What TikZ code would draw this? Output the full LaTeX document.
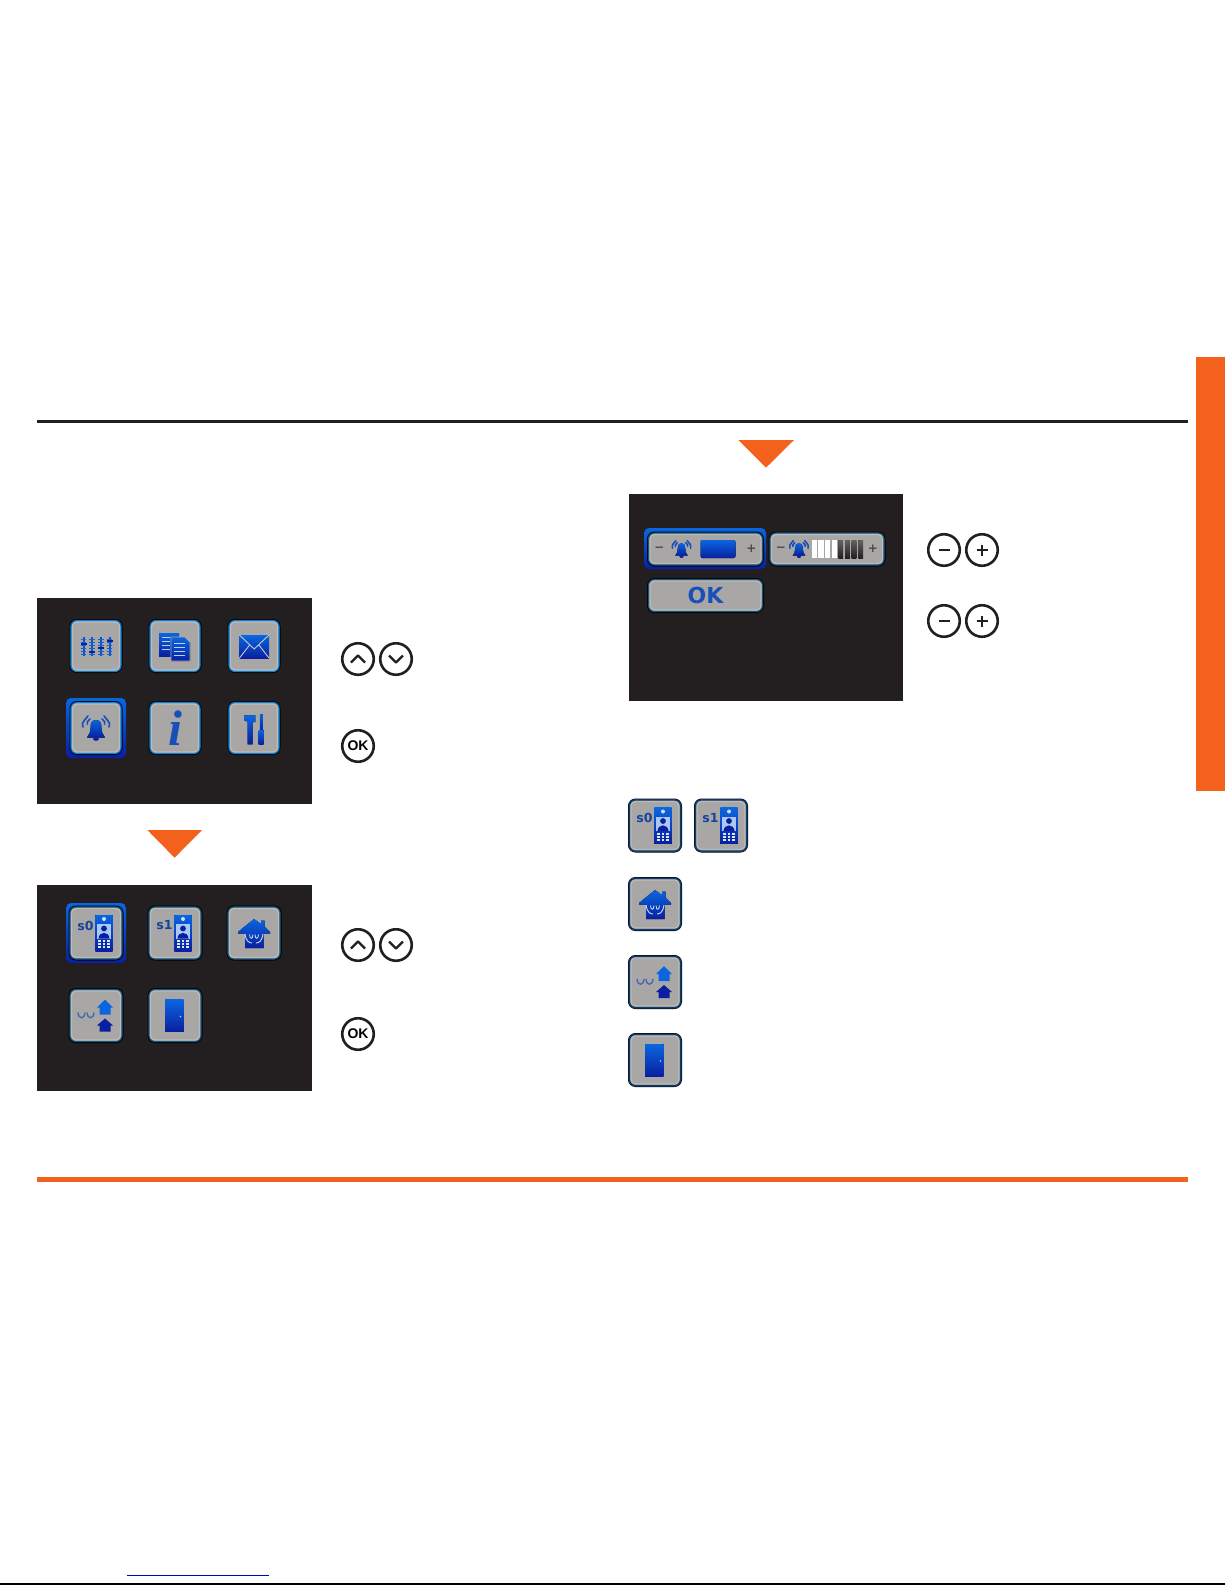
\documentclass[tikz,border=0pt]{standalone}
\usepackage{fontspec}
\usepackage{xcolor}
\usepackage{tikz}
\newfontfamily\keyfont{Liberation Sans}
\newfontfamily\iconfont{DejaVu Sans}
\newfontfamily\infofont{Liberation Serif}
\definecolor{pitch}{HTML}{231F20}
\definecolor{flame}{HTML}{F4611D}
\definecolor{iconlight}{HTML}{0A66E0}
\definecolor{icondark}{HTML}{0A1F9F}
\definecolor{iconmid}{HTML}{1A4FB8}
\definecolor{facegray}{HTML}{A9A7A6}
\definecolor{faceedge}{HTML}{BBBBBB}
\definecolor{rimblue}{HTML}{0A7FD8}
\definecolor{rimdull}{HTML}{17567F}
\definecolor{rimnavy}{HTML}{123A66}
\definecolor{linkblue}{HTML}{0000CC}
\tikzset{
	screen/.style = {rectangle, fill=pitch, inner sep=0pt, minimum width=275, minimum height=206},
	facering/.style = {path picture={\draw[faceedge, line width=1.2, rounded corners=4] ([shift={(1.6,1.6)}]path picture bounding box.north west) rectangle ([shift={(-1.6,-1.6)}]path picture bounding box.south east);}},
	menubutton/.style = {rectangle, rounded corners=6, fill=facegray, draw=rimblue, line width=1.2, inner sep=0pt, minimum width=50, minimum height=51, facering, preaction={draw=black, line width=3}},
	subbutton/.style = {menubutton, draw=rimdull, minimum width=52, minimum height=52},
	sidebutton/.style = {menubutton, draw=rimnavy, minimum width=51, minimum height=51, preaction={draw=rimnavy, line width=2}},
	widebutton/.style = {subbutton, minimum width=114, minimum height=32},
	selectframe/.style = {rectangle, rounded corners=5, top color=iconlight, bottom color=icondark, inner sep=0pt, minimum width=60, minimum height=60},
	keybutton/.style = {circle, draw=pitch, line width=2.6, fill=white, inner sep=0pt, minimum size=31.5, font=\keyfont\bfseries\fontsize{14}{14}\selectfont},
	keymark/.style = {draw=pitch, line width=2.4, line join=round},
	marker/.style = {fill=flame},
	iconfill/.style = {top color=iconlight, bottom color=icondark},
	iconline/.style = {draw=iconmid, line width=1.6, line cap=round},
	iconmixer/.pic = {
		\foreach \x/\k in {-12.3/-2,-4/6,5/2,13.7/-5} {
			\draw[iconmid, line width=2.4] (\x,-9) -- (\x,10);
			\foreach \t in {-7,-4,...,9} \draw[iconlight, line width=0.6] (\x-2.6,\t) -- (\x+2.6,\t);
			\fill[icondark] (\x-3,\k-1) rectangle (\x+3,\k+1);
		}
	},
	icondocs/.pic = {
		\fill[iconfill] (-16,-13) rectangle (4,10);
		\foreach \t in {-9,-5,-1,3} \draw[white!70!iconlight, line width=0.6] (-13,\t) -- (-5,\t);
		\fill[iconfill, draw=facegray, line width=0.8] (-4,-9) -- (10,-9) -- (15,-4) -- (15,15) -- (-4,15) -- cycle;
		\foreach \t in {-3,1,5,9} \draw[white!70!iconlight, line width=0.6] (-1,\t) -- (10,\t);
	},
	iconmail/.pic = {
		\fill[iconfill] (-14.5,-11) rectangle (15,12);
		\draw[facegray!60!white, line width=0.9] (-14.5,-11) -- (0.2,3) -- (15,-11) (-14.5,12) -- (-4,-1.5) (15,12) -- (4.5,-1.5);
	},
	iconbell/.pic = {
		\fill[iconfill] (0,-8) .. controls (-5,-8) and (-5.5,-4) .. (-5.5,0) .. controls (-5.5,4) and (-7,7) .. (-9,9.5) -- (9,9.5) .. controls (7,7) and (5.5,4) .. (5.5,0) .. controls (5.5,-4) and (5,-8) .. (0,-8) -- cycle;
		\fill[icondark] (0,11) ellipse (3 and 1.8);
		\draw[iconline] (-13,-1) .. controls (-14,-5) .. (-8,-12) (13,-1) .. controls (14,-5) .. (8,-12);
		\draw[iconline] (-8.7,-3.7) .. controls (-9,-6) .. (-6,-9) (8.7,-3.7) .. controls (9,-6) .. (6,-9);
	},
	iconinfo/.pic = {
		\node[inner sep=0pt, text=iconmid, font=\infofont\bfseries\itshape\fontsize{50}{50}\selectfont] (glyph) at (0,0) {i};
	},
	icontools/.pic = {
		\fill[iconfill] (-10,-12.6) -- (1.3,-12.6) -- (1.3,-6) -- (-1.3,-6) -- (-1.3,16.3) -- (-6.3,16.3) -- (-6.3,-6) -- (-10,-8) -- cycle;
		\fill[iconfill] (5.9,-14) rectangle (8.5,3);
		\fill[iconfill] (4.7,2) rectangle (9.7,16.3);
	},
	iconstation/.pic = {
		\node[inner sep=0pt, text=iconmid!85!black, font=\iconfont\bfseries\fontsize{12.5}{12.5}\selectfont] (code) at (-10.5,-7.5) {#1};
		\fill[iconfill] (-0.7,-17.7) rectangle (16.7,18.3);
		\fill[iconlight!35!white] (1.3,-9) rectangle (14.7,5.5);
		\fill[icondark] (8,-4.5) circle (2.9) (2.5,5.5) .. controls (3,-2) and (13,-2) .. (13.5,5.5) -- cycle;
		\fill[white!80!iconlight] (8,-14) circle (2);
		\foreach \x in {3.5,8,12.5} \foreach \y in {8,11,14} \fill[white!85!iconlight] (\x-1.4,\y-1) rectangle (\x+1.4,\y+1);
	},
	iconbasket/.pic = {
		\fill[iconfill] (0,-14) -- (7,-9) -- (7,-12.5) -- (10.5,-12.5) -- (10.5,-6.5) -- (16,-1) -- (16,0.5) -- (9.6,0.5) -- (9.6,15) -- (-9,15) -- (-9,0.5) -- (-16,0.5) -- (-16,-1) -- cycle;
		\draw[white!80!iconlight, line width=0.9] (-9,1) .. controls (-8,8) and (-5,10) .. (-2,10) (9,1) .. controls (8,8) and (5,10) .. (2,10);
		\draw[white!80!iconlight, line width=0.8] (-4.5,1.5) .. controls (-4.3,6.5) and (-1.2,6.5) .. (-1,1.5) (1,1.5) .. controls (1.2,6.5) and (4.3,6.5) .. (4.5,1.5);
	},
	iconhomes/.pic = {
		\draw[iconmid!70!facegray, line width=1.4] (-18,-3) .. controls (-17.5,4) and (-11.5,4) .. (-11,-3) (-9,-3) .. controls (-8.5,4) and (-2.5,4) .. (-2,-3);
		\fill[iconlight] (9,-16) -- (17,-8) -- (14.5,-8) -- (14.5,-1) -- (3.5,-1) -- (3.5,-8) -- (1,-8) -- cycle;
		\fill[icondark] (9,3) -- (17,10) -- (14.5,10) -- (14.5,16) -- (3.5,16) -- (3.5,10) -- (1,10) -- cycle;
	},
	icondoor/.pic = {
		\fill[iconfill] (-10,-16) rectangle (8.7,16);
		\fill[white!70!iconlight] (5.5,1) circle (0.8);
	},
	iconlevel/.pic = {
		\node[inner sep=0pt, text=pitch!70!facegray, font=\iconfont\bfseries\fontsize{12}{12}\selectfont] (less) at (-46,0) {−};
		\node[inner sep=0pt, text=pitch!70!facegray, font=\iconfont\bfseries\fontsize{12}{12}\selectfont] (more) at (46,0) {+};
	},
}

\begin{document}
\begin{tikzpicture}[x=1pt, y=-1pt]
	\useasboundingbox (0,0) rectangle (1225,1585);

	\draw[pitch, line width=3] (37,421.7) -- (1188,421.7);
	\fill[flame] (37,1176.7) rectangle (1188,1182);
	\fill[flame] (1196,357) rectangle (1225,791);
	\draw[linkblue, line width=1] (127,1575.3) -- (269,1575.3);
	\draw[black, line width=2] (0,1584.3) -- (1225,1584.3);

	\fill[marker] (147.3,830) -- (202,830) -- (174.6,857.7) -- cycle;
	\fill[marker] (738.3,440) -- (794,440) -- (766,467.7) -- cycle;

	% menu screen
	\node[screen] (menuscreen) at (174.5,701) {};
	\node[menubutton] (mixer) at (96,646) {};
	\node[menubutton] (docs) at (175,646) {};
	\node[menubutton] (mail) at (254,646) {};
	\node[selectframe] (bellframe) at (96,728) {};
	\node[menubutton] (bell) at (96,728) {};
	\node[menubutton] (info) at (175,728) {};
	\node[menubutton] (tools) at (254,728) {};
	\pic at (mixer) {iconmixer};
	\pic at (docs) {icondocs};
	\pic at (mail) {iconmail};
	\pic at (bell) {iconbell};
	\pic (i) at (info) {iconinfo};
	\pic at (tools) {icontools};
	\node[keybutton] (up1) at (358,659) {};
	\node[keybutton] (down1) at (396,659) {};
	\node[keybutton] (ok1) at (358,746) {OK};
	\draw[keymark] ([shift={(-7,3.5)}]up1.center) -- ([shift={(0,-3.5)}]up1.center) -- ([shift={(7,3.5)}]up1.center);
	\draw[keymark] ([shift={(-7,-3.5)}]down1.center) -- ([shift={(0,3.5)}]down1.center) -- ([shift={(7,-3.5)}]down1.center);

	% source screen
	\node[screen] (sourcescreen) at (174.5,988) {};
	\node[selectframe] (s0frame) at (96,933) {};
	\node[subbutton] (s0) at (96,933) {};
	\node[subbutton] (s1) at (175,933) {};
	\node[subbutton] (basket) at (254,933) {};
	\node[subbutton] (homes) at (96,1015.5) {};
	\node[subbutton] (door) at (175,1015.5) {};
	\pic (a) at (s0) {iconstation={s0}};
	\pic (b) at (s1) {iconstation={s1}};
	\pic at (basket) {iconbasket};
	\pic at (homes) {iconhomes};
	\pic at (door) {icondoor};
	\node[keybutton] (up2) at (358,945) {};
	\node[keybutton] (down2) at (396,945) {};
	\node[keybutton] (ok2) at (358,1034) {OK};
	\draw[keymark] ([shift={(-7,3.5)}]up2.center) -- ([shift={(0,-3.5)}]up2.center) -- ([shift={(7,3.5)}]up2.center);
	\draw[keymark] ([shift={(-7,-3.5)}]down2.center) -- ([shift={(0,3.5)}]down2.center) -- ([shift={(7,-3.5)}]down2.center);

	% level screen
	\node[screen, minimum width=274, minimum height=207] (levelscreen) at (766,597.5) {};
	\node[selectframe, minimum width=122, minimum height=41] (toneframe) at (705,548.5) {};
	\node[widebutton] (tone) at (705.5,549) {};
	\node[widebutton] (volume) at (827,549) {};
	\node[widebutton, text=iconmid, font=\iconfont\bfseries\fontsize{22}{22}\selectfont] (okbar) at (705.5,595.5) {OK};
	\pic (c) at (tone) {iconlevel};
	\pic (d) at (volume) {iconlevel};
	\pic[scale=0.7] at ([shift={(-24,0)}]tone.center) {iconbell};
	\pic[scale=0.7] at ([shift={(-28,0)}]volume.center) {iconbell};
	\fill[iconfill, rounded corners=2] ([shift={(-5,-9)}]tone.center) rectangle ([shift={(30,9)}]tone.center);
	\foreach \k in {0,1,2,3} \fill[white] ([shift={(-15.3+6.67*\k,-9)}]volume.center) rectangle ([shift={(-10+6.67*\k,9)}]volume.center);
	\foreach \k in {4,5,6,7} \fill[top color=pitch!70!white, bottom color=pitch] ([shift={(-15.3+6.67*\k,-9)}]volume.center) rectangle ([shift={(-10.6+6.67*\k,9)}]volume.center);
	\node[keybutton] (minus1) at (944,550) {};
	\node[keybutton] (plus1) at (982,550) {};
	\node[keybutton] (minus2) at (944,621) {};
	\node[keybutton] (plus2) at (982,621) {};
	\foreach \n in {minus1,plus1,minus2,plus2} \draw[keymark] ([shift={(-5.5,0)}]\n.center) -- ([shift={(5.5,0)}]\n.center);
	\foreach \n in {plus1,plus2} \draw[keymark] ([shift={(0,-5.5)}]\n.center) -- ([shift={(0,5.5)}]\n.center);

	% legend icons
	\node[sidebutton] (legends0) at (655,825.5) {};
	\node[sidebutton] (legends1) at (721,825.5) {};
	\node[sidebutton] (legendbasket) at (655,904) {};
	\node[sidebutton] (legendhomes) at (655,982) {};
	\node[sidebutton] (legenddoor) at (655,1060) {};
	\pic (e) at (legends0) {iconstation={s0}};
	\pic (f) at (legends1) {iconstation={s1}};
	\pic at (legendbasket) {iconbasket};
	\pic at (legendhomes) {iconhomes};
	\pic at (legenddoor) {icondoor};
\end{tikzpicture}
\end{document}
